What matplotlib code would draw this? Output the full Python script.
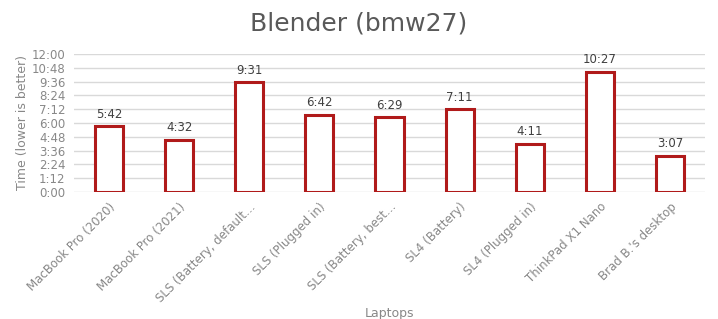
import matplotlib
matplotlib.use('Agg')
import matplotlib.pyplot as plt
from matplotlib.ticker import FixedLocator

plt.rcParams['font.family'] = ['DejaVu Sans']

laptops = ['MacBook Pro (2020)', 'MacBook Pro (2021)', 'SLS (Battery, default\u2026',
           'SLS (Plugged in)', 'SLS (Battery, best\u2026', 'SL4 (Battery)',
           'SL4 (Plugged in)', 'ThinkPad X1 Nano', "Brad B.'s desktop"]
times = ['5:42', '4:32', '9:31', '6:42', '6:29', '7:11', '4:11', '10:27', '3:07']
yticks = ['0:00', '1:12', '2:24', '3:36', '4:48', '6:00', '7:12', '8:24', '9:36', '10:48', '12:00']


def to_sec(s):
    m, sec = s.split(':')
    return int(m) * 60 + int(sec)


secs = [to_sec(t) for t in times]

fig = plt.figure(figsize=(7.18, 3.19), dpi=100)
ax = fig.add_axes([0.103, 0.398, 0.879, 0.433])

x = range(len(laptops))
ax.bar(x, secs, width=0.4, facecolor='white', edgecolor='#B01A1A',
       linewidth=2.2, zorder=3)
for xi, s, t in zip(x, secs, times):
    ax.text(xi, s + 30, t, ha='center', va='bottom', fontsize=8.5, color='#404040')

ax.set_ylim(0, 720)
ax.set_xlim(-0.5, len(laptops) - 0.5)
ax.yaxis.set_major_locator(FixedLocator([to_sec(t) for t in yticks]))
ax.set_yticklabels(yticks, fontsize=8.5, color='#888888')
ax.set_xticks(list(x))
ax.set_xticklabels(laptops, rotation=45, ha='right', rotation_mode='anchor',
                   fontsize=8.5, color='#888888')
ax.grid(axis='y', color='#d9d9d9', linewidth=1, zorder=0)
ax.tick_params(length=0, pad=6)
for sp in ax.spines.values():
    sp.set_visible(False)

ax.set_ylabel('Time (lower is better)', fontsize=9, color='#888888')
ax.yaxis.set_label_coords(-0.072, 0.5)
ax.set_xlabel('Laptops', fontsize=9, color='#888888')
ax.xaxis.set_label_coords(0.5, -0.83)
fig.suptitle('Blender (bmw27)', fontsize=18, color='#595959', y=0.965)

fig.savefig('out.png', dpi=100)
